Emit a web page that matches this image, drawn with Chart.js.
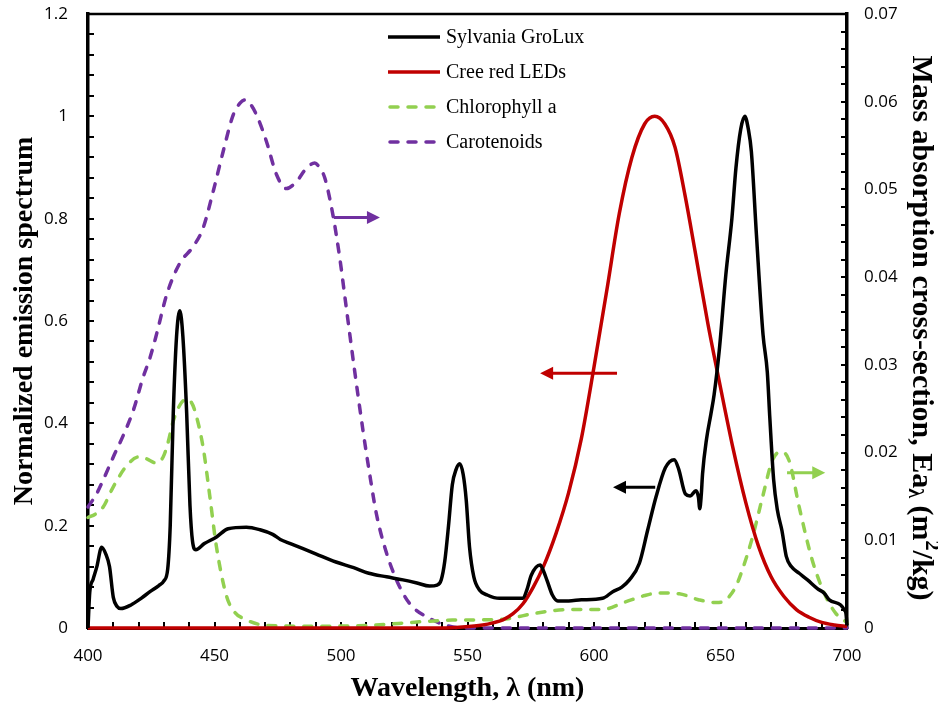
<!DOCTYPE html>
<html>
<head>
<meta charset="utf-8">
<script src="https://cdn.jsdelivr.net/npm/chart.js@4.4.1/dist/chart.umd.min.js"></script>
<style>
  html, body { margin: 0; padding: 0; background: #fff; }
  #wrap { width: 938px; height: 707px; position: relative; }
</style>
</head>
<body>
<div id="wrap"><canvas id="chart"></canvas></div>
<script>
/* Emission spectra (left axis) vs pigment absorption (right axis) */

const GROLUX_NM = [400, 400.7, 402, 403.5, 405.4, 407, 408.5, 410, 411.5, 413, 417, 421, 424.5, 428, 430, 431.5, 432.5, 433.7, 435, 436.3, 437.5, 439, 440.3, 441.3, 442.6, 446, 450.8, 455.4, 462.6, 468, 473, 476, 480, 485, 490, 498, 505, 511, 518, 524.5, 530, 535, 538, 539.6, 541, 542.5, 544, 545.5, 546.9, 548.3, 549.5, 550.8, 552.5, 554.8, 558, 562.6, 571.9, 573.5, 575.2, 578.7, 580, 581.5, 583.5, 585.7, 590, 595, 603.4, 607.4, 611, 614, 617.9, 621.2, 624.5, 628.2, 631.7, 633.5, 636.1, 638, 640.3, 641.3, 641.8, 642.4, 642.9, 644.5, 646.2, 647.5, 649.5, 652.1, 654.5, 656.1, 658, 659.6, 661, 662.2, 664.2, 666.8, 668.5, 669.5, 671, 672.5, 674.3, 676, 678, 681.1, 684.4, 688.3, 691, 693, 697.5, 699, 699.6, 700];
const GROLUX = [0.0, 0.07, 0.095, 0.12, 0.158, 0.145, 0.12, 0.06, 0.042, 0.038, 0.045, 0.058, 0.071, 0.083, 0.092, 0.115, 0.2, 0.42, 0.57, 0.62, 0.57, 0.42, 0.24, 0.17, 0.153, 0.165, 0.178, 0.194, 0.197, 0.192, 0.183, 0.173, 0.165, 0.155, 0.145, 0.129, 0.118, 0.107, 0.1, 0.094, 0.088, 0.082, 0.084, 0.094, 0.13, 0.2, 0.28, 0.31, 0.321, 0.3, 0.25, 0.158, 0.1, 0.074, 0.064, 0.058, 0.058, 0.075, 0.103, 0.123, 0.112, 0.092, 0.065, 0.053, 0.053, 0.055, 0.058, 0.071, 0.08, 0.094, 0.126, 0.191, 0.256, 0.313, 0.329, 0.31, 0.262, 0.258, 0.268, 0.255, 0.233, 0.26, 0.301, 0.37, 0.418, 0.457, 0.542, 0.69, 0.8, 0.899, 0.975, 1.0, 0.975, 0.931, 0.769, 0.574, 0.5, 0.41, 0.29, 0.23, 0.19, 0.14, 0.12, 0.107, 0.094, 0.077, 0.068, 0.055, 0.045, 0.035, 0.028, 0.005];

const CREE_NM = [400, 540, 548, 556, 560, 564, 568, 572, 576, 580, 585, 590, 595, 600, 605, 610, 615, 620, 624, 628, 632, 636, 640, 645, 650, 655, 660, 665, 670, 675, 680, 685, 690, 695, 700];
const CREE = [0, 0, 0.002, 0.006, 0.01, 0.016, 0.028, 0.048, 0.08, 0.12, 0.185, 0.265, 0.37, 0.51, 0.658, 0.81, 0.92, 0.985, 1.0, 0.985, 0.94, 0.845, 0.735, 0.595, 0.47, 0.35, 0.245, 0.16, 0.1, 0.062, 0.036, 0.021, 0.011, 0.006, 0.003];

const CHL_NM = [400, 403, 406, 410, 415.3, 419.9, 423, 427.1, 429.7, 431.5, 433.7, 436.5, 439, 440.7, 442.2, 445.5, 448.2, 450.8, 454.8, 458, 461.3, 470.5, 490, 511, 531, 544, 564, 577, 590, 603, 612.7, 620, 625.8, 633.7, 641.6, 648.2, 651, 653.5, 656, 658.1, 662.7, 666.6, 670.5, 673.8, 677.1, 681.1, 686.3, 691.6, 695.5, 700];
const CHL = [0.0126, 0.013, 0.0138, 0.0161, 0.0185, 0.0195, 0.0193, 0.0188, 0.0195, 0.021, 0.0236, 0.0255, 0.0261, 0.0258, 0.0248, 0.0206, 0.0149, 0.0092, 0.0036, 0.0018, 0.0011, 0.0003, 0.0002, 0.0003, 0.0007, 0.0009, 0.001, 0.0017, 0.0021, 0.0021, 0.003, 0.0037, 0.004, 0.0039, 0.0032, 0.0029, 0.003, 0.0036, 0.0047, 0.0062, 0.0104, 0.0149, 0.0191, 0.0201, 0.0191, 0.0138, 0.0077, 0.0036, 0.0017, 0.0006];

const CAR_NM = [400, 403.4, 406.5, 410, 414, 417.9, 421.8, 424.5, 427.1, 431.1, 436.3, 441.6, 445.5, 449.5, 453.4, 457.4, 460, 462, 464, 466.6, 470.5, 474.5, 478.4, 482.4, 486.3, 489.6, 491.5, 493.6, 496.8, 499.5, 502.1, 505.4, 508.7, 511.3, 514, 517.3, 521.9, 527.1, 535, 542.9, 550, 700];
const CAR = [0.0138, 0.0153, 0.0172, 0.0195, 0.022, 0.0248, 0.0286, 0.0308, 0.0335, 0.038, 0.0416, 0.0435, 0.0456, 0.0498, 0.0543, 0.0585, 0.0598, 0.0602, 0.0598, 0.0585, 0.0555, 0.0517, 0.0501, 0.0509, 0.0524, 0.053, 0.0525, 0.0513, 0.0471, 0.0422, 0.0365, 0.0293, 0.0225, 0.0176, 0.013, 0.0092, 0.0055, 0.0028, 0.0011, 0.0002, 0, 0];

const LABELS = ["Sylvania GroLux", "Cree red LEDs", "Chlorophyll a", "Carotenoids"];
const COLORS = ["#000000", "#C00000", "#92D050", "#7030A0"];

// arrows pointing at the axis each curve belongs to: [axis, value, fromNm, toNm]
const ARROWS = [
  ["y2", 0.0468, 497.2, 515.4, "#7030A0"],
  ["y", 0.498, 609.1, 578.7, "#C00000"],
  ["y", 0.275, 624.2, 607.5, "#000000"],
  ["y2", 0.0177, 676.3, 691.4, "#92D050"],
];

const X_TICKS = { min: 400, max: 700, step: 50, minor: 10 };
const Y_TICKS = { min: 0, max: 1.2, step: 0.2, minor: 0.04 };
const Y2_TICKS = { min: 0, max: 0.07, step: 0.01, minor: 0.002 };

const SERIF = '"Liberation Serif", "Times New Roman", serif';
const SANS = '"Open Sans", "Liberation Sans", sans-serif';

const pts = (xs, ys) => xs.map((x, i) => ({ x, y: ys[i] }));

function series(i, xs, ys, axis, dashed) {
  return {
    label: LABELS[i],
    data: pts(xs, ys),
    yAxisID: axis,
    borderColor: COLORS[i],
    backgroundColor: COLORS[i],
    borderWidth: 3.5,
    borderDash: dashed ? [8, 10] : [],
    borderCapStyle: dashed ? "round" : "butt",
    borderJoinStyle: "round",
    cubicInterpolationMode: "monotone",
    pointRadius: 0,
    clip: 8,
  };
}

const inwardTicks = {
  id: "inwardTicks",
  beforeDatasetsDraw(chart) {
    const { ctx, chartArea: a, scales } = chart;
    ctx.save();
    ctx.strokeStyle = "#000";
    ctx.lineWidth = 2;
    ctx.beginPath();
    const nx = Math.round((X_TICKS.max - X_TICKS.min) / X_TICKS.minor);
    for (let i = 1; i < nx; i++) {
      const px = Math.round(scales.x.getPixelForValue(X_TICKS.min + i * X_TICKS.minor));
      ctx.moveTo(px, a.bottom);
      ctx.lineTo(px, a.bottom - 6);
    }
    const ny = Math.round((Y_TICKS.max - Y_TICKS.min) / Y_TICKS.minor);
    for (let i = 1; i < ny; i++) {
      const py = Math.round(scales.y.getPixelForValue(Y_TICKS.min + i * Y_TICKS.minor));
      ctx.moveTo(a.left, py);
      ctx.lineTo(a.left + 6, py);
    }
    const ny2 = Math.round((Y2_TICKS.max - Y2_TICKS.min) / Y2_TICKS.minor);
    for (let i = 1; i < ny2; i++) {
      const py = Math.round(scales.y2.getPixelForValue(Y2_TICKS.min + i * Y2_TICKS.minor));
      ctx.moveTo(a.right, py);
      ctx.lineTo(a.right - 6, py);
    }
    ctx.stroke();
    // thin top frame line
    ctx.lineWidth = 2.5;
    ctx.beginPath();
    ctx.moveTo(a.left, a.top);
    ctx.lineTo(a.right, a.top);
    ctx.stroke();
    ctx.restore();
  },
};

function drawArrow(ctx, x0, x1, y, color) {
  const dir = Math.sign(x1 - x0);
  ctx.strokeStyle = color;
  ctx.fillStyle = color;
  ctx.lineWidth = 3;
  ctx.beginPath();
  ctx.moveTo(x0, y);
  ctx.lineTo(x1 - dir * 10, y);
  ctx.stroke();
  ctx.beginPath();
  ctx.moveTo(x1, y);
  ctx.lineTo(x1 - dir * 13, y - 6.5);
  ctx.lineTo(x1 - dir * 13, y + 6.5);
  ctx.closePath();
  ctx.fill();
}

const decorations = {
  id: "decorations",
  afterDatasetsDraw(chart) {
    const { ctx, chartArea: a, scales } = chart;
    ctx.save();
    ARROWS.forEach(([axis, v, from, to, color]) => {
      const y = scales[axis].getPixelForValue(v);
      drawArrow(ctx, scales.x.getPixelForValue(from), scales.x.getPixelForValue(to), y, color);
    });

    // legend
    const lx = 388, rowY = [37, 72, 107, 142];
    ctx.font = "20px " + SERIF;
    ctx.textBaseline = "middle";
    ctx.textAlign = "left";
    chart.data.datasets.forEach((ds, i) => {
      const y = rowY[i];
      ctx.strokeStyle = ds.borderColor;
      ctx.lineWidth = ds.borderWidth;
      ctx.lineCap = ds.borderCapStyle;
      ctx.setLineDash(ds.borderDash);
      ctx.beginPath();
      ctx.moveTo(lx + (ds.borderDash.length ? 2 : 0), y);
      ctx.lineTo(lx + 52, y);
      ctx.stroke();
      ctx.setLineDash([]);
      ctx.fillStyle = "#000";
      ctx.fillText(ds.label, lx + 58, y + 1);
    });

    // axis titles
    const midY = (a.top + a.bottom) / 2;
    ctx.fillStyle = "#000";
    ctx.font = "bold 28px " + SERIF;
    ctx.textAlign = "center";
    ctx.textBaseline = "middle";
    ctx.fillText("Wavelength, λ (nm)", (a.left + a.right) / 2, 689);

    ctx.save();
    ctx.translate(25, midY);
    ctx.rotate(-Math.PI / 2);
    ctx.fillText("Normalized emission spectrum", 0, 0);
    ctx.restore();

    // right title with subscript lambda and superscript 2
    const segs = [
      ["Mass absorption cross-section, Ea", 30, 0],
      ["λ", 20, 7],
      [" (m", 30, 0],
      ["2", 20, -10],
      ["/kg)", 30, 0],
    ];
    let total = 0;
    segs.forEach((s) => {
      ctx.font = "bold " + s[1] + "px " + SERIF;
      total += ctx.measureText(s[0]).width;
    });
    ctx.save();
    ctx.translate(921, 328);
    ctx.rotate(Math.PI / 2);
    ctx.textAlign = "left";
    let x = -total / 2;
    segs.forEach((s) => {
      ctx.font = "bold " + s[1] + "px " + SERIF;
      ctx.fillText(s[0], x, s[2]);
      x += ctx.measureText(s[0]).width;
    });
    ctx.restore();
    ctx.restore();
  },
};

const tickFont = { family: SANS, size: 17 };
const noPad = (s) => { s.paddingTop = 0; s.paddingBottom = 0; };

new Chart(document.getElementById("chart"), {
  type: "line",
  data: {
    datasets: [
      series(0, GROLUX_NM, GROLUX, "y", false),
      series(1, CREE_NM, CREE, "y", false),
      series(2, CHL_NM, CHL, "y2", true),
      series(3, CAR_NM, CAR, "y2", true),
    ],
  },
  options: {
    responsive: true,
    maintainAspectRatio: false,
    animation: false,
    layout: { padding: { top: 14, left: 0, right: 0, bottom: 0 } },
    plugins: { legend: { display: false }, tooltip: { enabled: false } },
    scales: {
      x: {
        type: "linear",
        min: X_TICKS.min,
        max: X_TICKS.max,
        ticks: { stepSize: X_TICKS.step, color: "#000", font: tickFont, padding: 18, maxRotation: 0 },
        grid: { display: false, drawTicks: false },
        border: { display: true, color: "#000", width: 3 },
        afterFit: (s) => { s.height = 79; s.paddingLeft = 0; s.paddingRight = 0; },
      },
      y: {
        position: "left",
        min: Y_TICKS.min,
        max: Y_TICKS.max,
        ticks: { stepSize: Y_TICKS.step, color: "#000", font: tickFont, padding: 20, callback: (v) => String(+v.toFixed(2)) },
        grid: { display: false, drawTicks: false },
        border: { display: true, color: "#000", width: 3.5 },
        afterFit: (s) => { s.width = 88; noPad(s); },
      },
      y2: {
        position: "right",
        min: Y2_TICKS.min,
        max: Y2_TICKS.max,
        ticks: { stepSize: Y2_TICKS.step, color: "#000", font: tickFont, padding: 17, callback: (v) => String(+v.toFixed(3)) },
        grid: { display: false, drawTicks: false },
        border: { display: true, color: "#000", width: 3.5 },
        afterFit: (s) => { s.width = 91; noPad(s); },
      },
    },
  },
  plugins: [inwardTicks, decorations],
});
</script>
</body>
</html>
